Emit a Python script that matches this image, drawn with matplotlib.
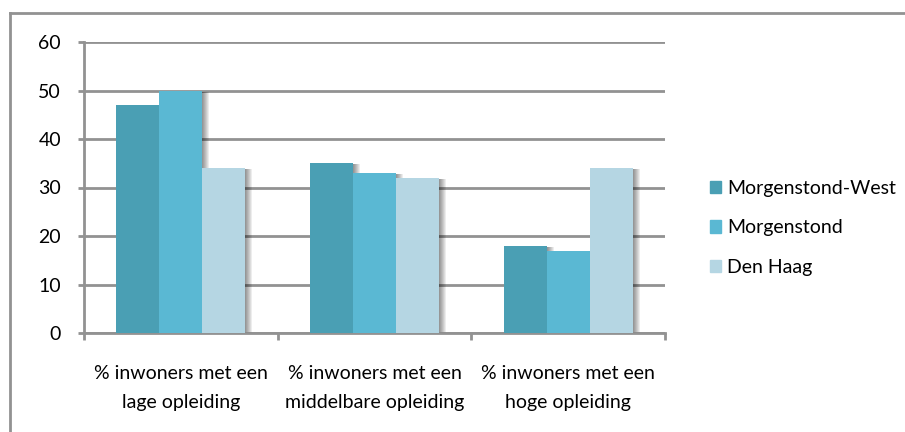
import numpy as np
import matplotlib
matplotlib.use('Agg')
import matplotlib.pyplot as plt
from matplotlib.lines import Line2D
from matplotlib.patches import Patch

plt.rcParams['font.family'] = ['Lato', 'DejaVu Sans']

# opleidingsniveau per gebied
categories = ['% inwoners met een\nlage opleiding',
              '% inwoners met een\nmiddelbare opleiding',
              '% inwoners met een\nhoge opleiding']
series_names = ['Morgenstond-West', 'Morgenstond', 'Den Haag']
morgenstond_west = [47, 35, 18]
morgenstond = [50, 33, 17]
den_haag = [34, 32, 34]
yticks = [0, 10, 20, 30, 40, 50, 60]

colors = ['#4A9FB4', '#5AB8D3', '#B5D6E3']
grid_col = '#929292'
fs = 14

fig = plt.figure(figsize=(9.05, 4.32), dpi=100)
ax = fig.add_axes([84 / 905, 1 - 333 / 432, 581 / 905, 291 / 432])

values = [morgenstond_west, morgenstond, den_haag]
x = np.arange(len(categories))
width = 1 / 4.5

# pixel size in data units, used for the soft shadow
px_x = 3 / 581
px_y = 60 / 291

for i, vals in enumerate(values):
    pos = x - width + i * width
    # shadow: stacked translucent copies shifted right
    for k in range(1, 8):
        ax.bar(pos + k * px_x, np.array(vals) - 1 * px_y, width=width,
               color='black', alpha=0.07, zorder=2, linewidth=0)
for i, vals in enumerate(values):
    pos = x - width + i * width
    ax.bar(pos, vals, width=width, color=colors[i], zorder=3, linewidth=0)

ax.set_xlim(-0.5, 2.5)
ax.set_ylim(0, 60)
ax.set_yticks(yticks)
ax.yaxis.grid(True, color=grid_col, linewidth=2, zorder=1)
ax.set_axisbelow(True)

# category boundaries carry the x ticks
ax.set_xticks([-0.5, 0.5, 1.5, 2.5])
ax.set_xticklabels([])
ax.set_xticks(x, minor=True)
ax.set_xticklabels(categories, minor=True, fontsize=fs, linespacing=1.85)
ax.tick_params(axis='x', which='minor', length=0, pad=23)
ax.tick_params(axis='x', which='major', length=5, width=2, color=grid_col)
ax.tick_params(axis='y', length=4.5, width=2, color=grid_col, pad=12,
               labelsize=fs)

for s in ['top', 'right']:
    ax.spines[s].set_visible(False)
for s in ['left', 'bottom']:
    ax.spines[s].set_color(grid_col)
    ax.spines[s].set_linewidth(2)

handles = [Patch(color=c) for c in colors]
fig.legend(handles, series_names, loc='center left',
           bbox_to_anchor=(700 / 905, 1 - 228 / 432), frameon=False,
           fontsize=fs, handlelength=0.6, handleheight=0.6,
           handletextpad=0.3, labelspacing=1.15, borderpad=0)

# outer chart border (top and left edges visible)
fig.add_artist(Line2D([10 / 905, 10 / 905], [1 - 13 / 432, -0.1],
                      color=grid_col, linewidth=2, transform=fig.transFigure))
fig.add_artist(Line2D([10 / 905, 1.1], [1 - 13 / 432, 1 - 13 / 432],
                      color=grid_col, linewidth=2, transform=fig.transFigure))

fig.savefig('out.png', dpi=100)
